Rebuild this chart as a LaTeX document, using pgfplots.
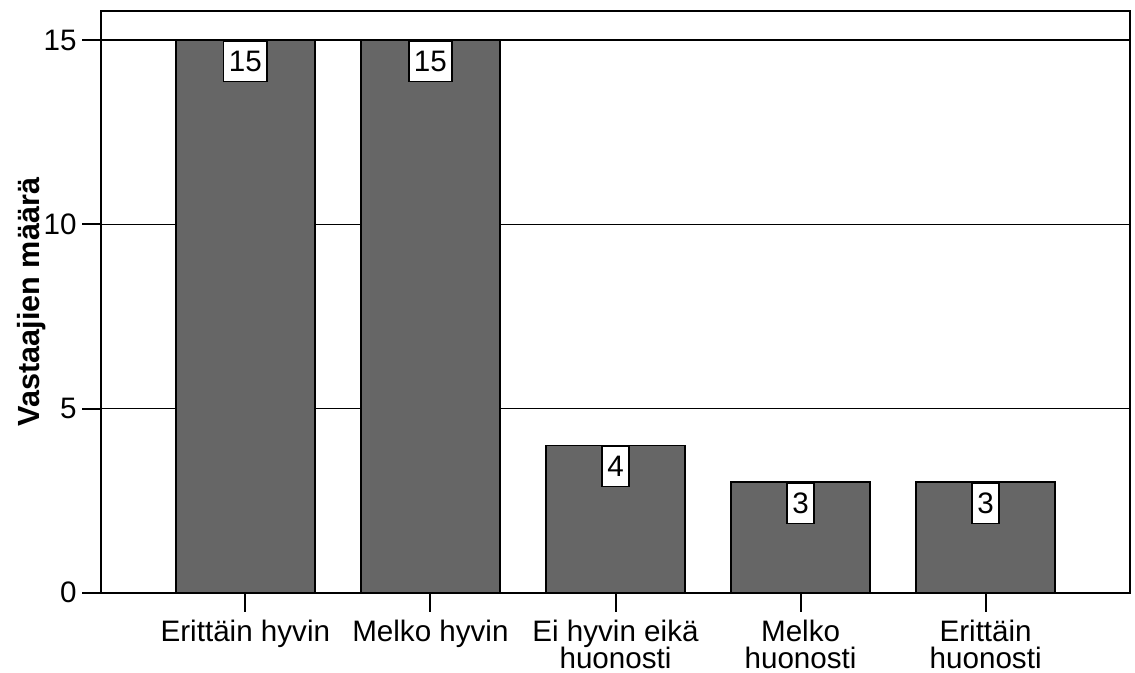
\documentclass[border=0pt]{standalone}
\usepackage{pgfplots}
\pgfplotsset{compat=1.18}
\usepackage{fontspec}
\setmainfont{Liberation Sans}
\definecolor{barfill}{RGB}{102,102,102}
\newcommand\catfont{\fontsize{14.8}{13.4}\selectfont\lineskiplimit=-100pt\relax}
\begin{document}
\begin{tikzpicture}
\begin{axis}[
  scale only axis,
  width=514.5pt, height=290.6pt,
  xmin=-0.78, xmax=4.78,
  ymin=0, ymax=15.78,
  ytick={0,5,10,15},
  xtick={0,1,2,3,4},
  xticklabels={Erittäin hyvin, Melko hyvin, {Ei hyvin eikä\\huonosti}, {Melko\\huonosti}, {Erittäin\\huonosti}},
  xticklabel style={align=center, font=\catfont, inner sep=2pt, yshift=-2pt},
  yticklabel style={font=\fontsize{14.8}{13.4}\selectfont, inner sep=2.5pt},
  /pgf/number format/assume math mode=true,
  tick pos=left,
  tick align=outside,
  major tick length=9.5pt,
  tick style={black, line width=1pt},
  axis line style={black, line width=1pt},
  ymajorgrids,
  grid style={black, line width=0.8pt},
  ylabel={Vastaajien määrä},
  ylabel style={font=\fontsize{15.3}{16}\selectfont\bfseries, at={([xshift=-34.5pt]axis description cs:0,0.5)}, anchor=center},
  ybar,
  bar width=0.75,
  nodes near coords,
  every node near coord/.append style={anchor=north, fill=white, draw=black, line width=0.8pt, font=\fontsize{14.8}{16}\selectfont, inner xsep=2.6pt, inner ysep=4.8pt, text height=10.6pt, text depth=0pt, yshift=0pt},
]
\addplot[fill=barfill, draw=black, line width=0.8pt] coordinates {(0,15) (1,15) (2,4) (3,3) (4,3)};
\end{axis}
\pgfresetboundingbox
\path ([xshift=-50.5pt, yshift=-40.15pt]current axis.south west) rectangle ([xshift=2.5pt, yshift=5.75pt]current axis.north east);
\end{tikzpicture}
\end{document}
